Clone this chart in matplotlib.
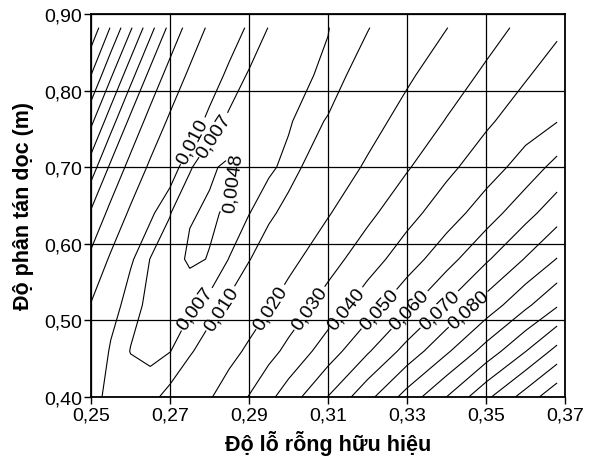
import numpy as np
import matplotlib
matplotlib.use('Agg')
import matplotlib.pyplot as plt

# effective porosity (x) and longitudinal dispersivity (y) grid
porosity = [0.250, 0.255, 0.260, 0.265, 0.270, 0.275, 0.280, 0.285, 0.290,
            0.295, 0.300, 0.310, 0.320, 0.330, 0.340, 0.350, 0.360, 0.368]
dispersivity = [0.40, 0.46, 0.52, 0.58, 0.64, 0.70, 0.76, 0.82, 0.882]

# error surface (rows follow dispersivity)
err_040 = [0.0105, 0.0096, 0.0086, 0.0090, 0.0112, 0.0155, 0.0192, 0.0246, 0.0304, 0.0376, 0.0449, 0.0603, 0.0769, 0.0940, 0.1101, 0.1278, 0.1443, 0.1575]
err_046 = [0.0160, 0.0093, 0.0069, 0.0060, 0.0069, 0.0093, 0.0129, 0.0171, 0.0216, 0.0268, 0.0325, 0.0450, 0.0588, 0.0736, 0.0884, 0.1039, 0.1197, 0.1332]
err_052 = [0.0195, 0.0122, 0.0079, 0.0064, 0.0055, 0.0064, 0.0078, 0.0108, 0.0150, 0.0192, 0.0239, 0.0342, 0.0451, 0.0575, 0.0708, 0.0841, 0.0979, 0.1090]
err_058 = [0.0276, 0.0187, 0.0106, 0.0069, 0.0059, 0.0044, 0.0049, 0.0071, 0.0097, 0.0134, 0.0173, 0.0259, 0.0356, 0.0451, 0.0562, 0.0686, 0.0806, 0.0904]
err_064 = [0.0386, 0.0271, 0.0185, 0.0108, 0.0071, 0.0050, 0.0045, 0.0051, 0.0069, 0.0089, 0.0118, 0.0193, 0.0276, 0.0367, 0.0452, 0.0551, 0.0667, 0.0757]
err_070 = [0.0551, 0.0380, 0.0268, 0.0185, 0.0123, 0.0073, 0.0051, 0.0044, 0.0054, 0.0064, 0.0079, 0.0143, 0.0212, 0.0291, 0.0376, 0.0453, 0.0542, 0.0633]
err_076 = [0.0723, 0.0543, 0.0375, 0.0264, 0.0185, 0.0133, 0.0085, 0.0064, 0.0054, 0.0059, 0.0066, 0.0104, 0.0166, 0.0232, 0.0305, 0.0384, 0.0453, 0.0497]
err_082 = [0.0900, 0.0714, 0.0536, 0.0370, 0.0261, 0.0184, 0.0132, 0.0087, 0.0067, 0.0060, 0.0062, 0.00745, 0.0129, 0.0186, 0.0249, 0.0317, 0.0391, 0.0445]
err_088 = [0.1070, 0.0893, 0.0714, 0.0536, 0.0370, 0.0261, 0.0184, 0.0133, 0.0091, 0.0069, 0.0065, 0.0069, 0.0097, 0.0147, 0.0198, 0.0260, 0.0326, 0.0382]

levels = [0.0048, 0.007, 0.010, 0.020, 0.030, 0.040, 0.050, 0.060, 0.070,
          0.080, 0.090, 0.100, 0.110, 0.120, 0.130, 0.140, 0.150]

label_levels = [0.010, 0.007, 0.0048, 0.007, 0.010, 0.020, 0.030, 0.040,
                0.050, 0.060, 0.070, 0.080]
label_texts = ['0,010', '0,007', '0,0048', '0,007', '0,010', '0,020', '0,030',
               '0,040', '0,050', '0,060', '0,070', '0,080']

xticks = [0.25, 0.27, 0.29, 0.31, 0.33, 0.35, 0.37]
xtick_labels = ['0,25', '0,27', '0,29', '0,31', '0,33', '0,35', '0,37']
yticks = [0.40, 0.50, 0.60, 0.70, 0.80, 0.90]
ytick_labels = ['0,40', '0,50', '0,60', '0,70', '0,80', '0,90']

xlabel = 'Độ lỗ rỗng hữu hiệu'
ylabel = 'Độ phân tán dọc (m)'

plt.rcParams['font.family'] = ['Liberation Sans', 'DejaVu Sans']

error = np.array([err_040, err_046, err_052, err_058, err_064,
                  err_070, err_076, err_082, err_088])

fig = plt.figure(figsize=(5.91, 4.64), dpi=100)
ax = fig.add_axes([0.154, 0.142, 0.802, 0.826])
ax.set_xlim(0.25, 0.37)
ax.set_ylim(0.40, 0.90)
ax.set_xticks(xticks)
ax.set_xticklabels(xtick_labels)
ax.set_yticks(yticks)
ax.set_yticklabels(ytick_labels)
ax.tick_params(direction='out', length=5, width=1, labelsize=14, pad=1.5)
ax.grid(True, color='black', linewidth=0.9)
ax.set_axisbelow(True)
for s in ax.spines.values():
    s.set_linewidth(1.3)

label_pos = [(0.2759, 0.734), (0.2807, 0.743), (0.2875, 0.678),
             (0.2777, 0.510), (0.2843, 0.510), (0.2975, 0.510),
             (0.3069, 0.510), (0.3160, 0.510), (0.3239, 0.510),
             (0.3313, 0.510), (0.3386, 0.512), (0.3459, 0.512)]

for lev in levels:
    cs = ax.contour(porosity, dispersivity, error, levels=[lev],
                    colors='black', linewidths=0.8)
    pts = [p for l, p in zip(label_levels, label_pos) if l == lev]
    txts = [t for l, t in zip(label_levels, label_texts) if l == lev]
    if pts:
        ax.clabel(cs, fmt={lev: txts[0]}, manual=pts,
                  inline=True, inline_spacing=2, fontsize=14)

ax.set_xlabel(xlabel, fontsize=15.5, fontweight='bold', labelpad=5)
ax.set_ylabel(ylabel, fontsize=15.5, fontweight='bold', labelpad=7)

fig.savefig('out.png', dpi=100)
